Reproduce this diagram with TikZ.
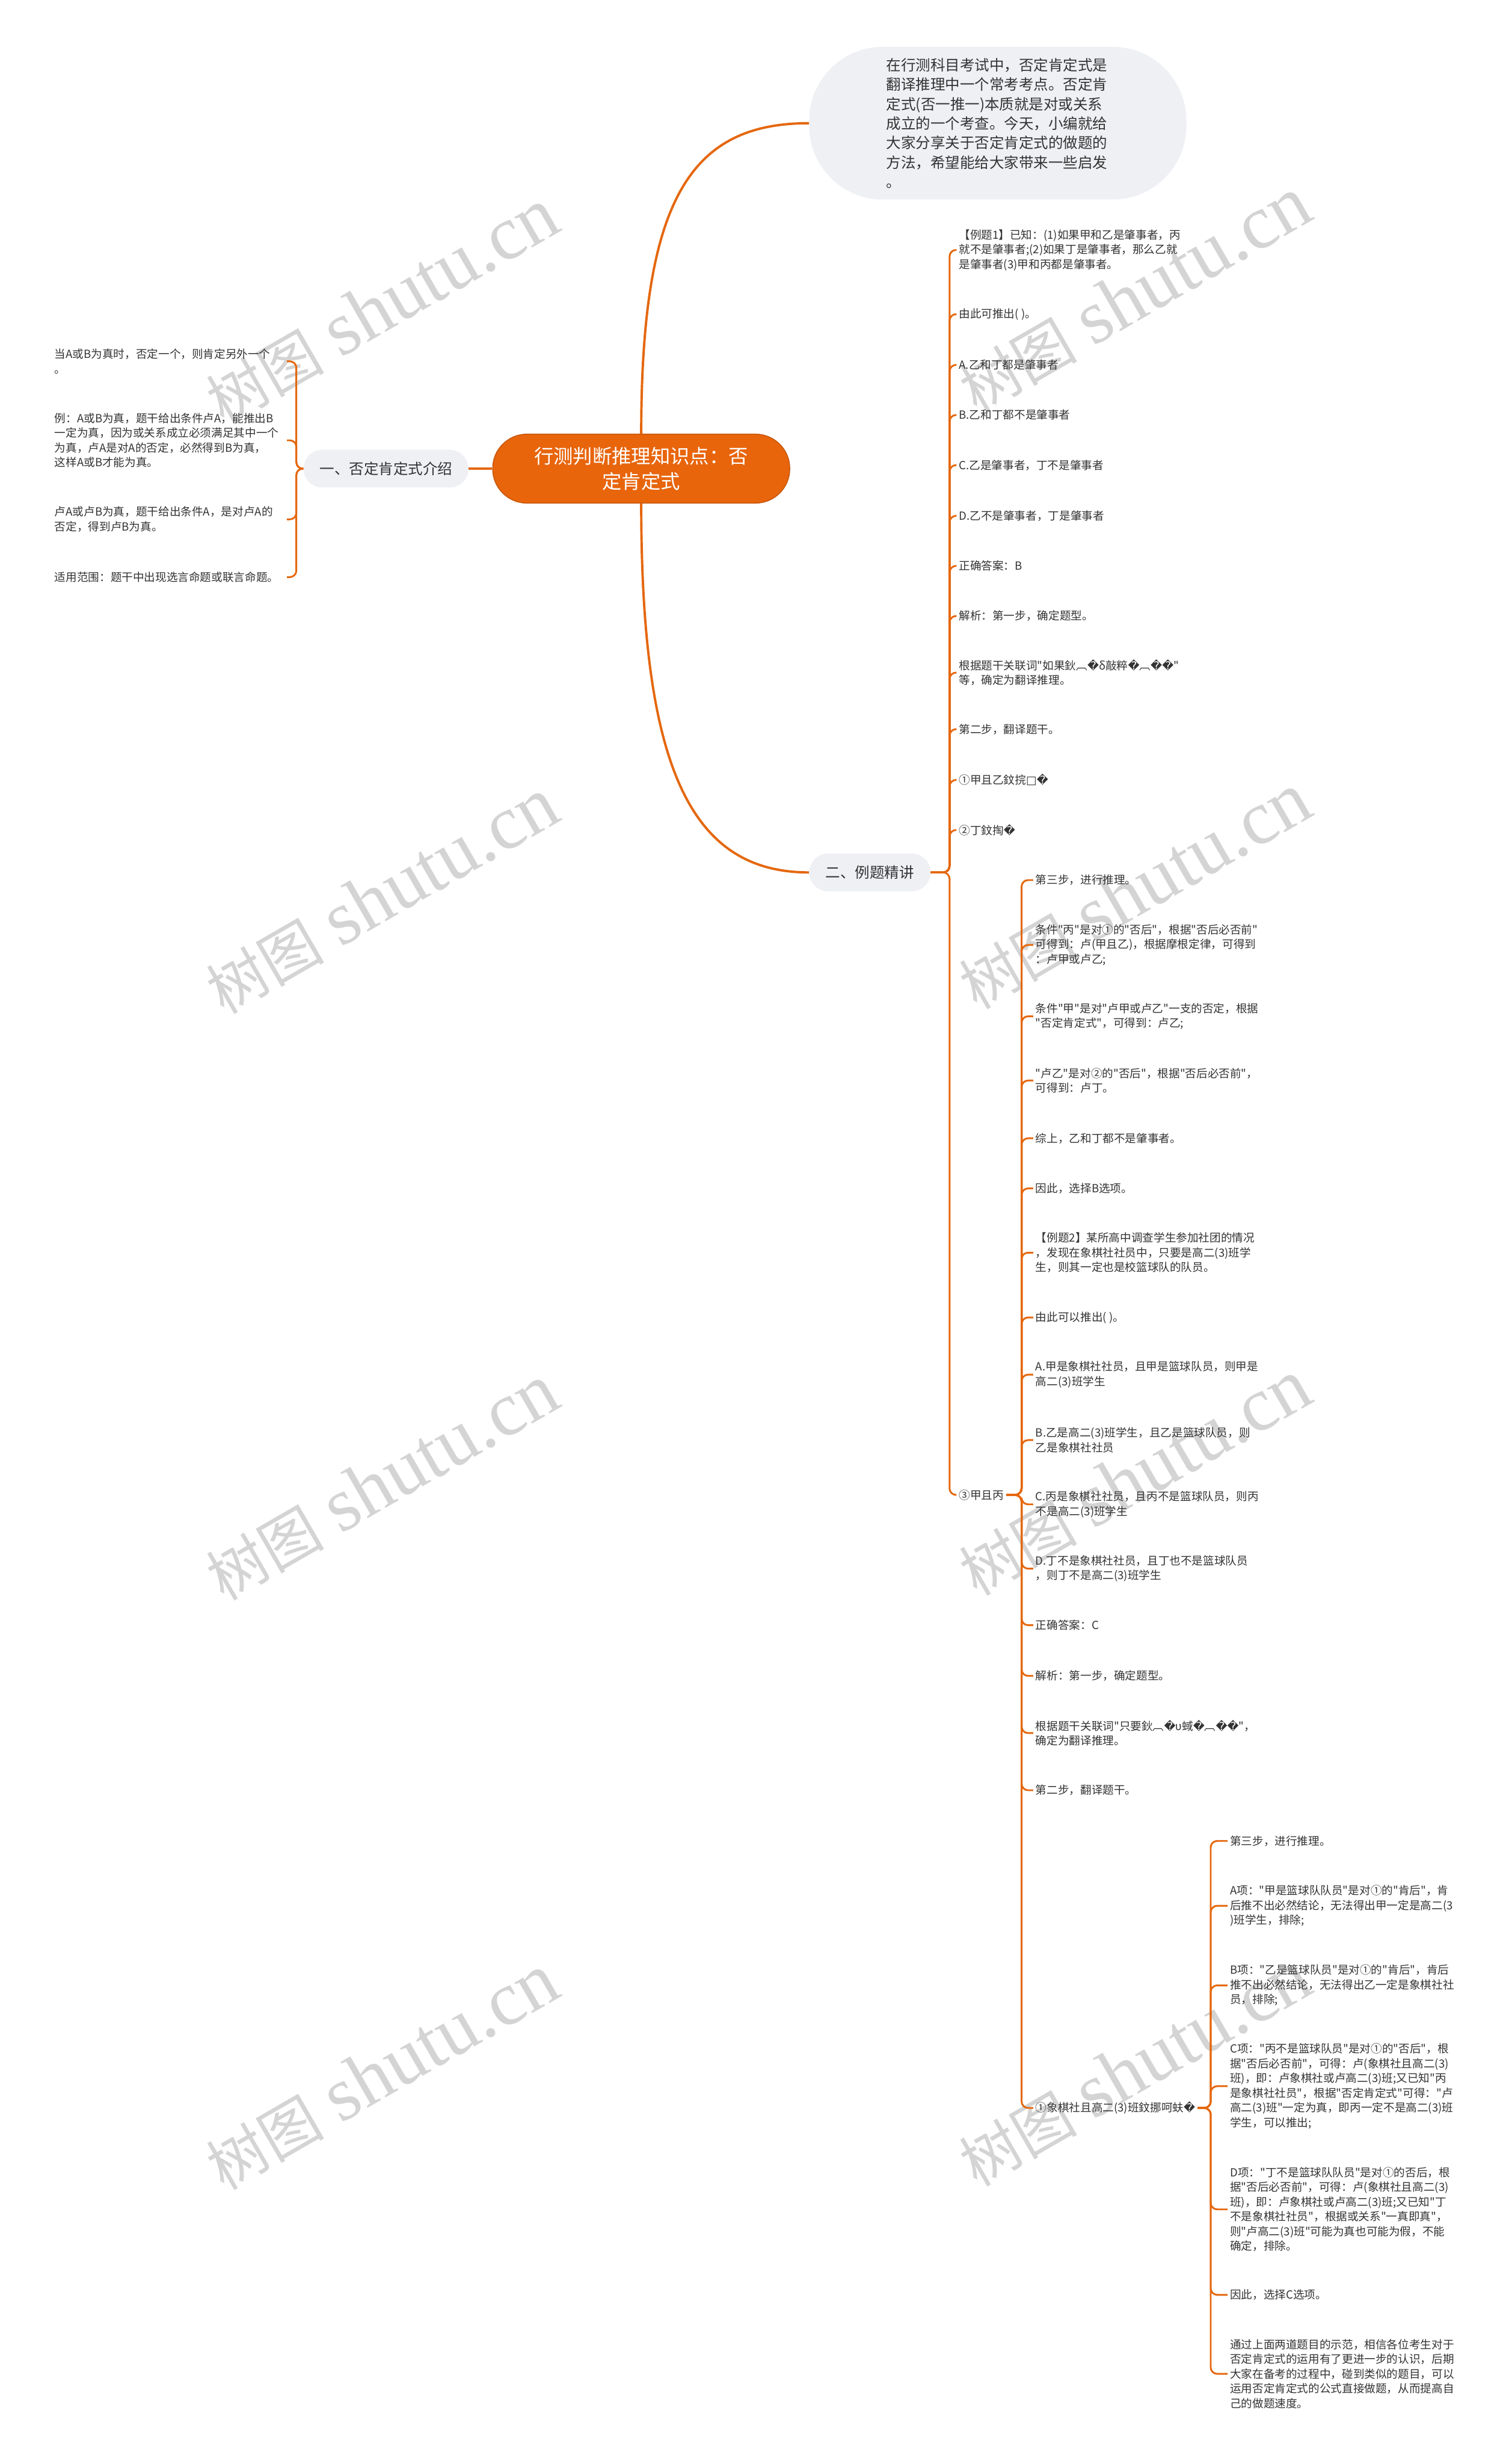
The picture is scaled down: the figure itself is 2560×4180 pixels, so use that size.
\documentclass[tikz,border=0pt]{standalone}
\usepackage{fontspec}
\newfontfamily\cjk{Noto Sans CJK SC}
\newfontfamily\symfont{DejaVu Sans}
\newfontfamily\wmfont{Liberation Serif}
\newcommand{\rp}{{\symfont\char"FFFD}}
\newcommand{\pua}{{\symfont\char"25A1}}
\definecolor{linkc}{HTML}{E5670E}
\definecolor{rootc}{HTML}{E8650C}
\definecolor{pale}{HTML}{EEF0F4}
\definecolor{ink}{HTML}{333333}
\definecolor{wmc}{HTML}{D4D4D4}

\begin{document}
\begin{tikzpicture}[
	x=1pt,
	y=-1pt,
	trunk/.style={draw=linkc, line width=4pt},
	branch/.style={draw=linkc, line width=3pt, rounded corners=11pt},
	root/.style={fill=rootc, draw=rootc!85!black, line width=1.5pt, rounded corners=58pt, minimum width=504pt, minimum height=117pt, align=center, text=white, font=\cjk\fontsize{33}{43}\selectfont},
	topic/.style={fill=pale, rounded corners=32pt, minimum height=64pt, text=ink, font=\cjk\fontsize{25}{33}\selectfont},
	leaf/.style={anchor=west, align=left, inner sep=4pt, text=ink, font=\cjk\fontsize{19}{25}\selectfont},
	leftleaf/.style={leaf, anchor=east, text width=390pt},
	wmark/.style={text=wmc, rotate=30, inner sep=0pt}
]

\fill [white] (0,0) rectangle (2560,4180);
\useasboundingbox (0,0) rectangle (2560,4180);

% watermarks
\foreach \x/\y [count=\i] in {648/520, 1925/501, 648/1520, 1925/1512, 648/2515, 1925/2507, 648/3515, 1925/3509}
	\node [wmark] (wm-\i) at (\x, \y) {{\cjk\fontsize{100}{100}\selectfont 树图}\hspace{28pt}{\wmfont\fontsize{130}{130}\selectfont shutu.cn}};

% centre and main topics
\node [root] (root) at (1088, 795) {行测判断推理知识点：否\\定肯定式};
\node [topic, minimum width=280pt] (sec1) at (655, 795) {一、否定肯定式介绍};
\node [topic, minimum width=206pt] (sec2) at (1476, 1480) {二、例题精讲};
\node [topic, rounded corners=125pt, minimum width=640pt, minimum height=259pt, text width=378pt, align=left] (intro) at (1693, 209)
	{在行测科目考试中，否定肯定式是\\翻译推理中一个常考考点。否定肯\\定式(否一推一)本质就是对或关系\\成立的一个考查。今天，小编就给\\大家分享关于否定肯定式的做题的\\方法，希望能给大家带来一些启发\\。};

\draw [trunk] (root.west) -- (sec1.east);
\draw [trunk] (root.north) .. controls +(0,-400) and +(-200,0) .. (intro.west);
\draw [trunk] (root.south) .. controls +(0,450) and +(-200,0) .. (sec2.west);

% left branch
\foreach \y/\t [count=\i] in {
	613/{当A或B为真时，否定一个，则肯定另外一个\\。},
	747/{例：A或B为真，题干给出条件卢A，能推出B\\一定为真，因为或关系成立必须满足其中一个\\为真，卢A是对A的否定，必然得到B为真，\\这样A或B才能为真。},
	881/{卢A或卢B为真，题干给出条件A，是对卢A的\\否定，得到卢B为真。},
	979/{适用范围：题干中出现选言命题或联言命题。}}
	\node [leftleaf] (lft-\i) at (487, \y) {\t};

\foreach \i in {1, ..., 4}
	\draw [branch] (sec1.west) -- ++(-12,0) |- (lft-\i.east);

% example 1
\foreach \y/\t [count=\i] in {
	424/{【例题1】已知：(1)如果甲和乙是肇事者，丙\\就不是肇事者;(2)如果丁是肇事者，那么乙就\\是肇事者(3)甲和丙都是肇事者。},
	533/{由此可推出( )。},
	619/{A.乙和丁都是肇事者},
	704/{B.乙和丁都不是肇事者},
	789/{C.乙是肇事者，丁不是肇事者},
	875/{D.乙不是肇事者，丁是肇事者},
	960/{正确答案：B},
	1045/{解析：第一步，确定题型。},
	1141/{根据题干关联词"如果鈥︹\rp δ敲粹\rp︹\rp\rp"\\等，确定为翻译推理。},
	1237/{第二步，翻译题干。},
	1323/{①甲且乙鈫捖\pua\rp},
	1408/{②丁鈫掏\rp}}
	\node [leaf] (ex-\i) at (1623, \y) {\t};

\node [leaf] (case) at (1623, 2536) {③甲且丙};

\foreach \i in {1, ..., 12}
	\draw [branch] (sec2.east) -- ++(32,0) |- (ex-\i.west);
\draw [branch] (sec2.east) -- ++(32,0) |- (case.west);

% reasoning and example 2
\foreach \y/\t [count=\i] in {
	1493/{第三步，进行推理。},
	1603/{条件"丙"是对①的"否后"，根据"否后必否前"\\可得到：卢(甲且乙)，根据摩根定律，可得到\\：卢甲或卢乙;},
	1724/{条件"甲"是对"卢甲或卢乙"一支的否定，根据\\"否定肯定式"，可得到：卢乙;},
	1833/{"卢乙"是对②的"否后"，根据"否后必否前"，\\可得到：卢丁。},
	1931/{综上，乙和丁都不是肇事者。},
	2016/{因此，选择B选项。},
	2125/{【例题2】某所高中调查学生参加社团的情况\\，发现在象棋社社员中，只要是高二(3)班学\\生，则其一定也是校篮球队的队员。},
	2235/{由此可以推出( )。},
	2332/{A.甲是象棋社社员，且甲是篮球队员，则甲是\\高二(3)班学生},
	2443/{B.乙是高二(3)班学生，且乙是篮球队员，则\\乙是象棋社社员},
	2552/{C.丙是象棋社社员，且丙不是篮球队员，则丙\\不是高二(3)班学生},
	2661/{D.丁不是象棋社社员，且丁也不是篮球队员\\，则丁不是高二(3)班学生},
	2757/{正确答案：C},
	2843/{解析：第一步，确定题型。},
	2940/{根据题干关联词"只要鈥︹\rp υ蜮\rp︹\rp\rp"，\\确定为翻译推理。},
	3037/{第二步，翻译题干。}}
	\node [leaf] (st-\i) at (1753, \y) {\t};

\node [leaf] (chess) at (1753, 3576) {①象棋社且高二(3)班鈫挪呵蚨\rp};

\foreach \i in {1, ..., 16}
	\draw [branch] (case.east) -- ++(26,0) |- (st-\i.west);
\draw [branch] (case.east) -- ++(26,0) |- (chess.west);

% options of example 2
\foreach \y/\t [count=\i] in {
	3123/{第三步，进行推理。},
	3233/{A项："甲是篮球队队员"是对①的"肯后"，肯\\后推不出必然结论，无法得出甲一定是高二(3\\)班学生，排除;},
	3368/{B项："乙是篮球队员"是对①的"肯后"，肯后\\推不出必然结论，无法得出乙一定是象棋社社\\员，排除;},
	3539/{C项："丙不是篮球队员"是对①的"否后"，根\\据"否后必否前"，可得：卢(象棋社且高二(3)\\班)，即：卢象棋社或卢高二(3)班;又已知"丙\\是象棋社社员"，根据"否定肯定式"可得："卢\\高二(3)班"一定为真，即丙一定不是高二(3)班\\学生，可以推出;},
	3748/{D项："丁不是篮球队队员"是对①的否后，根\\据"否后必否前"，可得：卢(象棋社且高二(3)\\班)，即：卢象棋社或卢高二(3)班;又已知"丁\\不是象棋社社员"，根据或关系"一真即真"，\\则"卢高二(3)班"可能为真也可能为假，不能\\确定，排除。},
	3893/{因此，选择C选项。},
	4027/{通过上面两道题目的示范，相信各位考生对于\\否定肯定式的运用有了更进一步的认识，后期\\大家在备考的过程中，碰到类似的题目，可以\\运用否定肯定式的公式直接做题，从而提高自\\己的做题速度。}}
	\node [leaf] (ck-\i) at (2083, \y) {\t};

\foreach \i in {1, ..., 7}
	\draw [branch] (chess.east) -- ++(22,0) |- (ck-\i.west);

\end{tikzpicture}
\end{document}
